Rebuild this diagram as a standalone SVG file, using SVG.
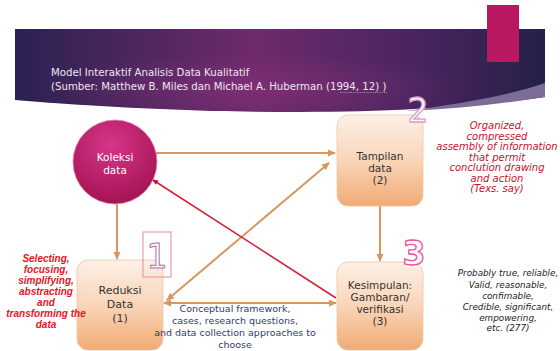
<svg xmlns="http://www.w3.org/2000/svg" width="560" height="351" viewBox="0 0 560 351">
  <defs>
    <linearGradient id="band" x1="0" y1="0" x2="1" y2="0">
      <stop offset="0" stop-color="#2b2252"/>
      <stop offset="0.45" stop-color="#6e2a6c"/>
      <stop offset="0.75" stop-color="#4a2560"/>
      <stop offset="1" stop-color="#262048"/>
    </linearGradient>
    <radialGradient id="bandGlow" cx="0.45" cy="0.7" r="0.4">
      <stop offset="0" stop-color="#8a3278" stop-opacity="0.55"/>
      <stop offset="1" stop-color="#8a3278" stop-opacity="0"/>
    </radialGradient>
    <radialGradient id="circ" cx="0.45" cy="0.3" r="0.75">
      <stop offset="0" stop-color="#d8358a"/>
      <stop offset="1" stop-color="#a0124f"/>
    </radialGradient>
    <linearGradient id="box" x1="0" y1="0" x2="0" y2="1">
      <stop offset="0" stop-color="#fdf0e6"/>
      <stop offset="0.5" stop-color="#f9d5b8"/>
      <stop offset="1" stop-color="#f1aa74"/>
    </linearGradient>
    <marker id="ao" markerWidth="8" markerHeight="8" refX="7" refY="4" orient="auto" markerUnits="userSpaceOnUse">
      <path d="M0,0.5 L8,4 L0,7.5 z" fill="#d8975c"/>
    </marker>
    <marker id="aos" markerWidth="8" markerHeight="8" refX="7" refY="4" orient="auto-start-reverse" markerUnits="userSpaceOnUse">
      <path d="M0,0.5 L8,4 L0,7.5 z" fill="#d8975c"/>
    </marker>
    <marker id="ar" markerWidth="6" markerHeight="6" refX="5" refY="3" orient="auto" markerUnits="userSpaceOnUse">
      <path d="M0,0.5 L6,3 L0,5.5 z" fill="#c8102e"/>
    </marker>
  </defs>
  <style>
    .node rect.b { fill: url(#box); stroke: #f0c4a2; stroke-width: 0.8; }
    .t { font-family: "DejaVu Sans", "Liberation Sans", sans-serif; font-size: 10.5px; fill: #333; text-anchor: middle; }
    .title { font-family: "DejaVu Sans", "Liberation Sans", sans-serif; font-size: 10.2px; fill: #eee6f0; }
    .num { font-family: "DejaVu Sans", "Liberation Sans", sans-serif; font-size: 33px; fill: #ffffff; stroke: #d66aa2; stroke-width: 1.3; text-anchor: middle; }
    .redr { font-family: "DejaVu Sans", "Liberation Sans", sans-serif; font-style: italic; font-size: 10px; fill: #c8102e; text-anchor: middle; }
    .blk { font-family: "DejaVu Sans", "Liberation Sans", sans-serif; font-style: italic; font-size: 8.8px; fill: #222; text-anchor: middle; }
    .redl { font-family: "Liberation Sans", Arial, sans-serif; font-style: italic; font-weight: bold; font-size: 10px; fill: #e8141e; text-anchor: middle; }
    .navy { font-family: "DejaVu Sans", "Liberation Sans", sans-serif; font-size: 9.5px; fill: #2f3b70; text-anchor: middle; }
    .co { stroke: #d8975c; stroke-width: 2; fill: none; }
    .cr { stroke: #d0233a; stroke-width: 1.6; fill: none; }
  </style>

  <rect width="560" height="351" fill="#ffffff"/>

  <!-- header band -->
  <g id="header">
    <path d="M15,29 H545 V97 C480,106 400,112 300,112 C200,112 100,107 15,100 Z" fill="url(#band)"/>
    <path d="M15,29 H545 V97 C480,106 400,112 300,112 C200,112 100,107 15,100 Z" fill="url(#bandGlow)"/>
    <path d="M405,111 C460,104 510,95 545,83 V97 C500,104 460,109 405,111 Z" fill="#7b6d96"/>
    <rect x="487" y="5" width="32" height="57" fill="#b8185f"/>
    <text class="title" x="51" y="76">Model Interaktif Analisis Data Kualitatif</text>
    <text class="title" x="51" y="90">(Sumber: Matthew B. Miles dan Michael A. Huberman (1994, 12) )</text>
    <line x1="340" y1="92.5" x2="387" y2="92.5" stroke="#cfc4d8" stroke-width="0.7" stroke-dasharray="1,1.2"/>
  </g>

  <!-- connectors -->
  <g id="connectors">
    <path class="co" d="M155,153 H335" marker-end="url(#ao)"/>
    <path class="co" d="M117,204 V259" marker-end="url(#ao)"/>
    <path class="co" d="M167,300 L329,163" marker-start="url(#aos)" marker-end="url(#aos)"/>
    <path class="co" d="M380,206 V261" marker-end="url(#ao)"/>
    <path class="co" d="M164,303 H336" marker-start="url(#aos)" marker-end="url(#aos)"/>
    <path class="cr" d="M336,298 L153,180" marker-end="url(#ar)"/>
  </g>

  <!-- nodes -->
  <g id="koleksi" class="node">
    <circle cx="115" cy="162" r="42" fill="url(#circ)" stroke="#e67fb0" stroke-width="0.8"/>
    <text class="t" x="115" y="161" style="fill:#ffffff">Koleksi</text>
    <text class="t" x="115" y="174" style="fill:#ffffff">data</text>
  </g>

  <g id="tampilan" class="node">
    <rect class="b" x="337" y="115" width="86" height="91" rx="11"/>
    <text class="t" x="380" y="160">Tampilan</text>
    <text class="t" x="380" y="172">data</text>
    <text class="t" x="380" y="184">(2)</text>
  </g>

  <g id="reduksi" class="node">
    <rect class="b" x="77" y="260" width="86" height="90" rx="11"/>
    <text class="t" x="120" y="294" style="font-size:11px">Reduksi</text>
    <text class="t" x="120" y="308" style="font-size:11px">Data</text>
    <text class="t" x="120" y="322" style="font-size:11px">(1)</text>
  </g>

  <g id="kesimpulan" class="node">
    <rect class="b" x="337" y="262" width="86" height="88" rx="11"/>
    <text class="t" x="380" y="289">Kesimpulan:</text>
    <text class="t" x="380" y="301">Gambaran/</text>
    <text class="t" x="380" y="313">verifikasi</text>
    <text class="t" x="380" y="325">(3)</text>
  </g>

  <!-- step numbers -->
  <g id="num1">
    <rect x="143" y="232" width="28" height="45" fill="none" stroke="#e68aa4" stroke-width="1"/>
    <text class="num" x="157" y="268" style="stroke:#b36fa0; stroke-width:1">1</text>
  </g>
  <g id="num2">
    <text class="num" x="418" y="122" style="stroke:#d9a2cc">2</text>
  </g>
  <g id="num3">
    <text class="num" x="414" y="265" style="font-weight:bold; fill:#fff4f8; stroke:#e0579a">3</text>
  </g>

  <!-- annotations -->
  <g id="note-display">
    <text class="redr" x="497" y="129">Organized,</text>
    <text class="redr" x="497" y="139.5">compressed</text>
    <text class="redr" x="497" y="150">assembly of information</text>
    <text class="redr" x="497" y="160.5">that permit</text>
    <text class="redr" x="497" y="171">conclution drawing</text>
    <text class="redr" x="497" y="181.5">and action</text>
    <text class="redr" x="497" y="192">(Texs. say)</text>
  </g>

  <g id="note-reduction">
    <text class="redl" x="46" y="262">Selecting,</text>
    <text class="redl" x="46" y="273">focusing,</text>
    <text class="redl" x="46" y="284">simplifying,</text>
    <text class="redl" x="46" y="295">abstracting</text>
    <text class="redl" x="46" y="306">and</text>
    <text class="redl" x="46" y="317">transforming the</text>
    <text class="redl" x="46" y="328">data</text>
  </g>

  <g id="note-conclusion">
    <text class="blk" x="508" y="276">Probably true, reliable,</text>
    <text class="blk" x="508" y="287.5">Valid, reasonable,</text>
    <text class="blk" x="508" y="298.5">confimable,</text>
    <text class="blk" x="508" y="309.5">Credible, significant,</text>
    <text class="blk" x="508" y="320.5">empowering,</text>
    <text class="blk" x="508" y="331">etc. (277)</text>
  </g>

  <g id="note-framework">
    <text class="navy" x="235" y="312">Conceptual framework,</text>
    <text class="navy" x="235" y="324">cases, research questions,</text>
    <text class="navy" x="235" y="336">and data collection approaches to</text>
    <text class="navy" x="235" y="348">choose</text>
  </g>
</svg>
